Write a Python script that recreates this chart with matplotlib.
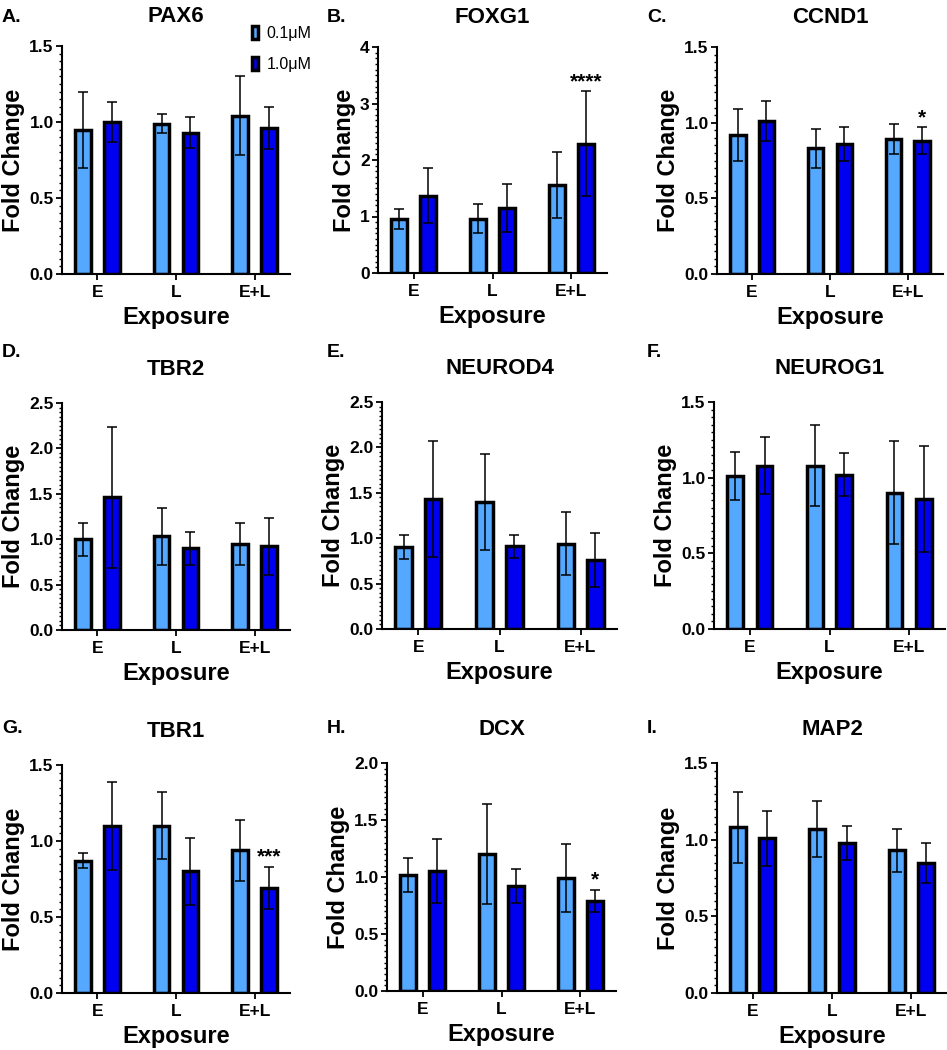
import numpy as np
import matplotlib.pyplot as plt
from matplotlib.ticker import MultipleLocator, AutoMinorLocator, FormatStrFormatter

plt.rcParams['font.family'] = ['Liberation Sans', 'DejaVu Sans']

genes = ['PAX6', 'FOXG1', 'CCND1', 'TBR2', 'NEUROD4', 'NEUROG1', 'TBR1', 'DCX', 'MAP2']
letters = ['A.', 'B.', 'C.', 'D.', 'E.', 'F.', 'G.', 'H.', 'I.']
exposures = ['E', 'L', 'E+L']
doses = ['0.1\u03bcM', '1.0\u03bcM']

# 0.1uM means / error (E, L, E+L)
mean_low = [
    [0.95, 0.99, 1.04],
    [0.96, 0.96, 1.56],
    [0.92, 0.83, 0.89],
    [1.00, 1.03, 0.95],
    [0.90, 1.40, 0.94],
    [1.01, 1.08, 0.90],
    [0.87, 1.10, 0.94],
    [1.02, 1.20, 0.99],
    [1.08, 1.07, 0.93],
]
err_low = [
    [0.25, 0.06, 0.26],
    [0.18, 0.26, 0.58],
    [0.17, 0.13, 0.10],
    [0.18, 0.31, 0.23],
    [0.13, 0.53, 0.35],
    [0.16, 0.27, 0.34],
    [0.05, 0.22, 0.20],
    [0.15, 0.44, 0.30],
    [0.23, 0.18, 0.14],
]
# 1.0uM means / error
mean_high = [
    [1.00, 0.93, 0.96],
    [1.37, 1.15, 2.29],
    [1.01, 0.86, 0.88],
    [1.46, 0.90, 0.92],
    [1.43, 0.91, 0.76],
    [1.08, 1.02, 0.86],
    [1.10, 0.80, 0.69],
    [1.05, 0.92, 0.79],
    [1.01, 0.98, 0.85],
]
err_high = [
    [0.13, 0.10, 0.14],
    [0.48, 0.43, 0.93],
    [0.13, 0.11, 0.09],
    [0.78, 0.18, 0.31],
    [0.64, 0.13, 0.30],
    [0.19, 0.14, 0.35],
    [0.29, 0.22, 0.14],
    [0.28, 0.15, 0.10],
    [0.18, 0.11, 0.13],
]
y_max = [1.5, 4, 1.5, 2.5, 2.5, 1.5, 1.5, 2.0, 1.5]
y_step = [0.5, 1, 0.5, 0.5, 0.5, 0.5, 0.5, 0.5, 0.5]
# significance marks on the 1.0uM E+L bar
stars = ['', '****', '*', '', '', '', '***', '*', '']

W, H = 947, 1050
# axes boxes in pixels: left, top, right, bottom
boxes = [(62, 46, 290, 274), (378, 47, 607, 273), (717, 47, 943, 274),
         (62, 403, 290, 630), (382, 402, 617, 629), (714, 402, 945, 629),
         (62, 765, 290, 993), (387, 763, 616, 991), (717, 763, 947, 993)]

light = '#55A8FF'
dark = '#0000F0'

fig = plt.figure(figsize=(W / 100, H / 100), dpi=100)

x = np.arange(len(exposures))
bw = 0.2
off = 0.184
for i, g in enumerate(genes):
    l, t, r, b = boxes[i]
    ax = fig.add_axes([l / W, 1 - b / H, (r - l) / W, (b - t) / H])
    ekw = dict(ecolor='black', elinewidth=1.1, capsize=3.5, capthick=1.1)
    b1 = ax.bar(x - off, mean_low[i], bw, yerr=err_low[i], color=light,
                edgecolor='black', linewidth=2.5, error_kw=ekw, label=doses[0], zorder=2)
    b2 = ax.bar(x + off, mean_high[i], bw, yerr=err_high[i], color=dark,
                edgecolor='black', linewidth=2.5, error_kw=ekw, label=doses[1], zorder=2)
    if stars[i]:
        top = mean_high[i][2] + err_high[i][2]
        ax.text(2 + off, top, stars[i], ha='center', va='bottom',
                fontsize=15, fontweight='bold')

    ax.set_xlim(-0.45, 2.45)
    ax.set_ylim(0, y_max[i])
    ax.set_xticks(x)
    ax.set_xticklabels(exposures)
    ax.yaxis.set_major_locator(MultipleLocator(y_step[i]))
    ax.yaxis.set_minor_locator(AutoMinorLocator(10))
    if y_step[i] >= 1:
        ax.yaxis.set_major_formatter(FormatStrFormatter('%d'))
    else:
        ax.yaxis.set_major_formatter(FormatStrFormatter('%.1f'))
    for s in ['top', 'right']:
        ax.spines[s].set_visible(False)
    for s in ['left', 'bottom']:
        ax.spines[s].set_linewidth(1.5)
    ax.tick_params(axis='both', which='major', width=1.3, length=4, labelsize=12.5, pad=2)
    ax.tick_params(axis='x', which='major', pad=4)
    ax.tick_params(axis='y', which='minor', width=1.0, length=2.5)
    for lab in ax.get_xticklabels() + ax.get_yticklabels():
        lab.set_fontweight('bold')
    ax.set_ylabel('Fold Change', fontsize=17, fontweight='bold', labelpad=3)
    ax.set_xlabel('Exposure', fontsize=17, fontweight='bold', labelpad=4)
    pad = 17 if i < 3 else 20
    ax.set_title(g, fontsize=16, fontweight='bold', pad=pad)

    col = i % 3
    row = i // 3
    lx = [2, 327, 647][col]
    ly = [22, 357, 733][row]
    fig.text(lx / W, 1 - ly / H, letters[i], fontsize=14, fontweight='bold',
             ha='left', va='baseline')

    if i == 0:
        ax.legend(handles=[b1, b2], loc='upper left',
                  bbox_to_anchor=(244 / W, 1 - 18 / H), bbox_transform=fig.transFigure,
                  frameon=False, fontsize=11.5, handlelength=0.4, handleheight=0.9,
                  handletextpad=0.5, labelspacing=1.0, borderpad=0)

fig.savefig('out.png', dpi=100)
